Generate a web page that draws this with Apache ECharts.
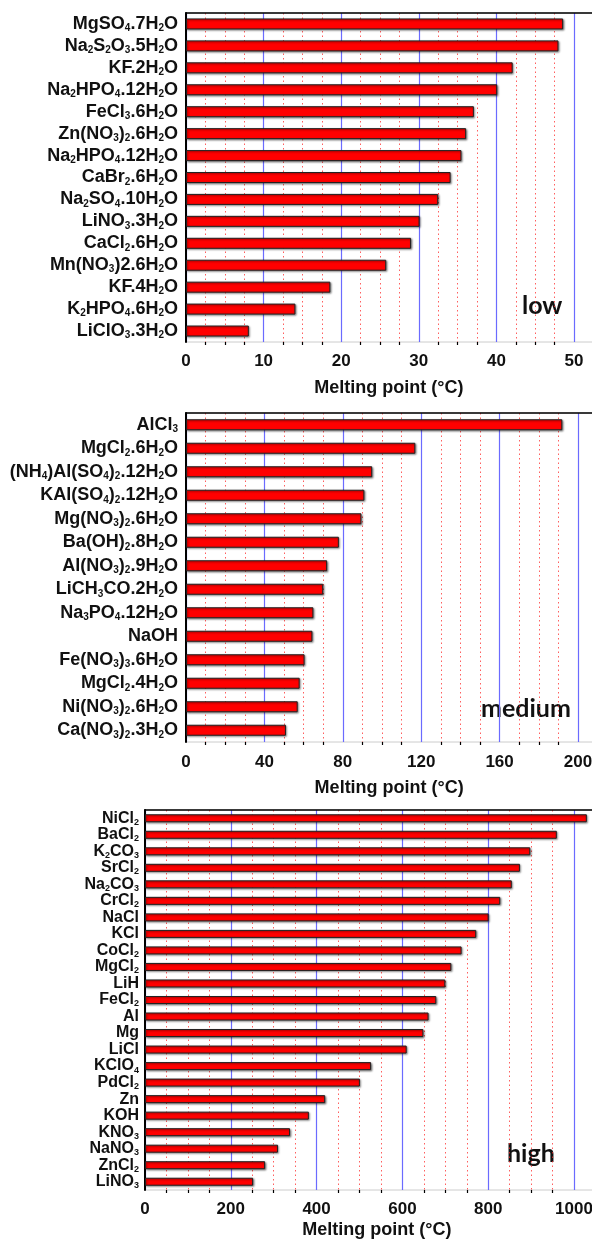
<!DOCTYPE html>
<html>
<head>
<meta charset="utf-8">
<script src="https://cdn.jsdelivr.net/npm/echarts@6/dist/echarts.min.js"></script>
<style>
  html, body { margin: 0; padding: 0; background: #fff; }
  #chart { width: 592px; height: 1241px; }
</style>
</head>
<body>
<div id="chart"></div>
<script>
// "_d" marks a subscript digit
const lowNames = ['MgSO_4.7H_2O', 'Na_2S_2O_3.5H_2O', 'KF.2H_2O', 'Na_2HPO_4.12H_2O', 'FeCl_3.6H_2O',
  'Zn(NO_3)_2.6H_2O', 'Na_2HPO_4.12H_2O', 'CaBr_2.6H_2O', 'Na_2SO_4.10H_2O', 'LiNO_3.3H_2O',
  'CaCl_2.6H_2O', 'Mn(NO_3)2.6H_2O', 'KF.4H_2O', 'K_2HPO_4.6H_2O', 'LiClO_3.3H_2O'];
const lowValues = [48.6, 48.0, 42.1, 40.1, 37.1, 36.1, 35.5, 34.1, 32.5, 30.1, 29.0, 25.8, 18.6, 14.1, 8.1];

const midNames = ['AlCl_3', 'MgCl_2.6H_2O', '(NH_4)Al(SO_4)_2.12H_2O', 'KAl(SO_4)_2.12H_2O', 'Mg(NO_3)_2.6H_2O',
  'Ba(OH)_2.8H_2O', 'Al(NO_3)_2.9H_2O', 'LiCH_3CO.2H_2O', 'Na_3PO_4.12H_2O', 'NaOH',
  'Fe(NO_3)_3.6H_2O', 'MgCl_2.4H_2O', 'Ni(NO_3)_2.6H_2O', 'Ca(NO_3)_2.3H_2O'];
const midValues = [192, 117, 95, 91, 89.5, 78, 72, 70, 65, 64.5, 60.5, 58, 57, 51];

const highNames = ['NiCl_2', 'BaCl_2', 'K_2CO_3', 'SrCl_2', 'Na_2CO_3', 'CrCl_2', 'NaCl', 'KCl', 'CoCl_2',
  'MgCl_2', 'LiH', 'FeCl_2', 'Al', 'Mg', 'LiCl', 'KClO_4', 'PdCl_2', 'Zn', 'KOH', 'KNO_3', 'NaNO_3',
  'ZnCl_2', 'LiNO_3'];
const highValues = [1030, 960, 898, 874, 855, 828, 801, 772, 738, 714, 700, 679, 661, 649, 610,
  527, 501, 420, 382, 338, 310, 280, 252];

const axisTitle = 'Melting point (°C)';
const tags = ['low', 'medium', 'high'];

function chem(s) {
  return s.replace(/_(\d)/g, '{s|$1}');
}

const chart = echarts.init(document.getElementById('chart'));

// one panel = grid + x axis + top border axis + y axis + bar series
function panel(idx, g, names, values, opt) {
  return {
    grid: Object.assign({ show: true, borderColor: '#ccc', borderWidth: 1, containLabel: false, outerBoundsMode: 'none' }, g),
    xAxis: [{
      gridIndex: idx, type: 'value', min: 0, max: opt.max, interval: opt.interval,
      name: axisTitle, nameLocation: 'middle', nameGap: opt.nameGap,
      nameTextStyle: {
        fontFamily: 'Liberation Sans', fontWeight: 'bold', fontSize: 18, color: '#111',
        padding: [0, opt.nameShift, 0, 0]
      },
      axisLine: { lineStyle: { color: '#000', width: 2 } },
      axisTick: { length: 5, lineStyle: { color: '#000', width: 1.5 } },
      minorTick: { show: true, splitNumber: 4, length: 3, lineStyle: { color: '#000', width: 1.2 } },
      axisLabel: {
        margin: opt.labelMargin, formatter: v => String(v), hideOverlap: false,
        fontFamily: 'Liberation Sans', fontWeight: 'bold', fontSize: 17, color: '#111'
      },
      splitLine: { show: true, lineStyle: { color: '#6b6bff', width: 1.2 } },
      minorSplitLine: { show: true, lineStyle: { color: 'rgba(255,40,40,0.75)', width: 1, type: [1.5, 3] } }
    }, {
      gridIndex: idx, type: 'value', position: 'top', min: 0, max: opt.max,
      axisLine: { show: true, lineStyle: { color: '#000', width: 1.5 } },
      axisTick: { show: false }, axisLabel: { show: false }, splitLine: { show: false }
    }],
    yAxis: {
      gridIndex: idx, type: 'category', data: names, inverse: true,
      axisLine: { lineStyle: { color: '#000', width: 2 } },
      axisTick: { show: false },
      axisLabel: {
        interval: 0, margin: opt.yMargin, formatter: chem,
        fontFamily: 'Liberation Sans', fontWeight: 'bold', fontSize: opt.font, lineHeight: opt.font + 1,
        color: '#111',
        rich: { s: { fontFamily: 'Liberation Sans', fontWeight: 'bold', fontSize: opt.sub, lineHeight: opt.sub - 2, verticalAlign: 'bottom', color: '#111' } }
      }
    },
    series: {
      type: 'bar', xAxisIndex: idx * 2, yAxisIndex: idx, data: values, barWidth: opt.barWidth,
      itemStyle: {
        color: '#ff0000', borderColor: '#222', borderWidth: 1,
        shadowColor: 'rgba(0,0,0,0.45)', shadowBlur: 2, shadowOffsetX: 1, shadowOffsetY: 1
      },
      animation: false
    }
  };
}

const p1 = panel(0, { left: 186, top: 13, width: 465.6, height: 329 }, lowNames, lowValues,
  { max: 60, interval: 10, nameGap: 37, nameShift: 60, labelMargin: 11, yMargin: 8, font: 18, sub: 10, barWidth: 11 });
const p2 = panel(1, { left: 186, top: 413, width: 470.4, height: 329 }, midNames, midValues,
  { max: 240, interval: 40, nameGap: 37, nameShift: 64, labelMargin: 12, yMargin: 8, font: 18, sub: 10, barWidth: 11 });
const p3 = panel(2, { left: 145, top: 810, width: 514.8, height: 380 }, highNames, highValues,
  { max: 1200, interval: 200, nameGap: 31, nameShift: 51, labelMargin: 11, yMargin: 6, font: 16, sub: 9, barWidth: 8 });

function tag(text, x, y) {
  return {
    type: 'text', left: x, top: y,
    style: { text: text, fontFamily: 'Lato', fontWeight: 'bold', fontSize: 25, fill: '#111' }
  };
}

const option = {
  backgroundColor: '#fff',
  animation: false,
  grid: [p1.grid, p2.grid, p3.grid],
  xAxis: [].concat(p1.xAxis, p2.xAxis, p3.xAxis),
  yAxis: [p1.yAxis, p2.yAxis, p3.yAxis],
  series: [p1.series, p2.series, p3.series],
  graphic: [tag(tags[0], 522, 293), tag(tags[1], 481, 696), tag(tags[2], 507, 1141)]
};

chart.setOption(option);
</script>
</body>
</html>
